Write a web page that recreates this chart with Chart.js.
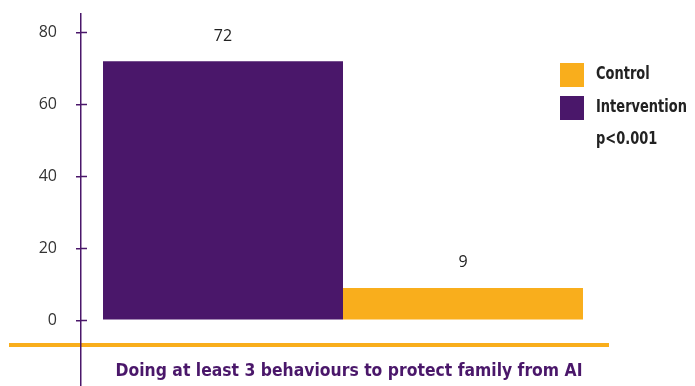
<!DOCTYPE html>
<html>
<head>
<meta charset="utf-8">
<script src="https://cdn.jsdelivr.net/npm/chart.js"></script>
<style>
  html, body { margin: 0; padding: 0; background: #fff; }
  canvas { display: block; }
</style>
</head>
<body>
<canvas id="chart" width="695" height="386"></canvas>
<script>
const categories = ['Doing at least 3 behaviours to protect family from AI'];
const seriesNames = ['Intervention', 'Control'];
const intervention = [72];
const control = [9];
const yTicks = [0, 20, 40, 60, 80];
const legendOrder = ['Control', 'Intervention'];
const note = 'p<0.001';

const PURPLE = '#4a176a';
const ORANGE = '#f9ae1c';
const TEXT = '#222';

// condensed bold text, squeezed a little horizontally
function narrowText(ctx, text, x, y, scaleX) {
  ctx.save();
  ctx.translate(x, y);
  ctx.scale(scaleX, 1);
  ctx.fillText(text, 0, 0);
  ctx.restore();
}

const extras = {
  id: 'extras',
  beforeDraw(chart) {
    const ctx = chart.ctx;
    // orange baseline across the plot, under the axis line
    ctx.save();
    ctx.strokeStyle = ORANGE;
    ctx.lineWidth = 4;
    ctx.beginPath();
    ctx.moveTo(9, 345);
    ctx.lineTo(609, 345);
    ctx.stroke();
    ctx.restore();
  },
  afterDraw(chart) {
    const ctx = chart.ctx;
    const y = chart.scales.y;
    const left = chart.chartArea.left;
    ctx.save();

    // tick marks cross the axis: draw the inner half
    ctx.strokeStyle = PURPLE;
    ctx.lineWidth = 1.5;
    yTicks.forEach(v => {
      const py = Math.round(y.getPixelForValue(v)) + 0.5;
      ctx.beginPath();
      ctx.moveTo(left, py);
      ctx.lineTo(left + 6, py);
      ctx.stroke();
    });

    // value above each bar
    ctx.fillStyle = TEXT;
    ctx.font = '16px "Open Sans"';
    ctx.textAlign = 'center';
    ctx.textBaseline = 'middle';
    chart.data.datasets.forEach((ds, i) => {
      chart.getDatasetMeta(i).data.forEach((bar, j) => {
        ctx.fillText(String(ds.data[j]), bar.x, bar.y - 25);
      });
    });

    // category caption under the baseline
    ctx.fillStyle = PURPLE;
    ctx.font = 'bold 18px "DejaVu Sans Condensed"';
    narrowText(ctx, chart.data.labels[0], 349, 371, 0.965);

    // legend
    const colors = {};
    chart.data.datasets.forEach(ds => { colors[ds.label] = ds.backgroundColor; });
    ctx.textAlign = 'left';
    ctx.fillStyle = TEXT;
    ctx.font = 'bold 17px "DejaVu Sans Condensed"';
    legendOrder.forEach((name, i) => {
      const top = 63 + i * 33;
      ctx.fillStyle = colors[name];
      ctx.fillRect(560, top, 24, 24);
      ctx.fillStyle = TEXT;
      narrowText(ctx, name, 596, top + 12, 0.85);
    });
    narrowText(ctx, note, 596, 140, 0.85);
    ctx.restore();
  }
};

new Chart(document.getElementById('chart'), {
  type: 'bar',
  data: {
    labels: categories,
    datasets: [
      { label: seriesNames[0], data: intervention, backgroundColor: PURPLE },
      { label: seriesNames[1], data: control, backgroundColor: ORANGE }
    ]
  },
  options: {
    responsive: false,
    animation: false,
    layout: { padding: { top: 14, right: 90, left: 0, bottom: 0 } },
    datasets: { bar: { barPercentage: 1, categoryPercentage: 0.916 } },
    plugins: { legend: { display: false }, tooltip: { enabled: false } },
    scales: {
      x: { display: false },
      y: {
        min: -18.25,
        max: 85.1,
        afterBuildTicks: s => { s.ticks = yTicks.map(v => ({ value: v })); },
        afterFit: s => { s.width = 81; s.paddingTop = 0; s.paddingBottom = 0; },
        border: { color: PURPLE, width: 1.5 },
        grid: { drawOnChartArea: false, tickLength: 5, color: PURPLE, lineWidth: 1.5 },
        ticks: { padding: 19, color: '#333', font: { family: 'Open Sans', size: 16 } }
      }
    }
  },
  plugins: [extras]
});
</script>
</body>
</html>
